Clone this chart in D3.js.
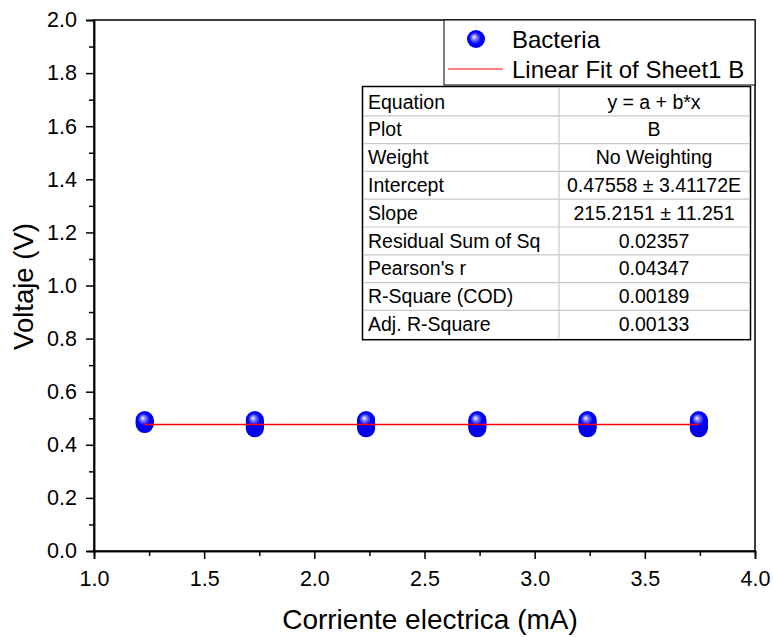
<!DOCTYPE html>
<html>
<head>
<meta charset="utf-8">
<script src="https://cdn.jsdelivr.net/npm/d3@7"></script>
<style>
	body { margin: 0; background: #fff; }
	text { font-family: "Liberation Sans", Arial, sans-serif; fill: #000; }
</style>
</head>
<body>
<svg id="plot" width="773" height="637"></svg>
<script>

// measured currents (mA) and the voltages read at each one
const X_VALUES = [1.23, 1.73, 2.235, 2.74, 3.24, 3.745];
const Y_COL1 = [0.478, 0.482, 0.486, 0.490, 0.493];
const Y_COL2 = [0.462, 0.467, 0.472, 0.478, 0.484, 0.490, 0.493];
const Y_COL3 = [0.462, 0.467, 0.472, 0.478, 0.484, 0.490, 0.493];
const Y_COL4 = [0.462, 0.467, 0.472, 0.478, 0.484, 0.490, 0.493];
const Y_COL5 = [0.462, 0.467, 0.472, 0.478, 0.484, 0.490, 0.493];
const Y_COL6 = [0.462, 0.467, 0.472, 0.478, 0.484, 0.490, 0.493];
const Y_COLS = [Y_COL1, Y_COL2, Y_COL3, Y_COL4, Y_COL5, Y_COL6];

// linear fit ends
const FIT_X = [1.23, 3.745];
const FIT_Y = [0.4766, 0.4766];

const X_TICKS = [1.0, 1.5, 2.0, 2.5, 3.0, 3.5, 4.0];
const Y_TICKS = [0.0, 0.2, 0.4, 0.6, 0.8, 1.0, 1.2, 1.4, 1.6, 1.8, 2.0];

const TABLE_LABELS = ['Equation', 'Plot', 'Weight', 'Intercept', 'Slope',
	'Residual Sum of Sq', "Pearson's r", 'R-Square (COD)', 'Adj. R-Square'];
const TABLE_VALUES = ['y = a + b*x', 'B', 'No Weighting', '0.47558 \u00b1 3.41172E',
	'215.2151 \u00b1 11.251', '0.02357', '0.04347', '0.00189', '0.00133'];

const LEGEND_NAMES = ['Bacteria', 'Linear Fit of Sheet1 B'];

function whenDocumentLoaded(action) {
	if (document.readyState === "loading") {
		document.addEventListener("DOMContentLoaded", action);
	} else {
		action();
	}
}

whenDocumentLoaded(() => {
	const svg = d3.select('#plot');
	const left = 94, right = 755, top = 20, bottom = 551;

	const x = d3.scaleLinear().domain([1, 4]).range([left, right]);
	const y = d3.scaleLinear().domain([0, 2]).range([bottom, top]);

	// sphere gradient for markers
	const defs = svg.append('defs');
	const grad = defs.append('radialGradient')
		.attr('id', 'ball')
		.attr('cx', '0.5').attr('cy', '0.5').attr('r', '0.55')
		.attr('fx', '0.38').attr('fy', '0.38');
	grad.append('stop').attr('offset', '0').attr('stop-color', '#ffffff');
	grad.append('stop').attr('offset', '0.25').attr('stop-color', '#8080ff');
	grad.append('stop').attr('offset', '0.6').attr('stop-color', '#0000ff');
	grad.append('stop').attr('offset', '1').attr('stop-color', '#0000e0');

	// frame
	svg.append('rect')
		.attr('x', left).attr('y', top)
		.attr('width', right - left).attr('height', bottom - top)
		.attr('fill', 'none').attr('stroke', '#000').attr('stroke-width', 1.5);

	// axes
	const xAxis = svg.append('g').attr('transform', `translate(0,${bottom})`)
		.call(d3.axisBottom(x).tickValues(X_TICKS).tickFormat(d3.format('.1f'))
			.tickSize(8));
	const xMinor = svg.append('g').attr('transform', `translate(0,${bottom})`)
		.call(d3.axisBottom(x).tickValues(X_TICKS.slice(0, -1).map(d => d + 0.25))
			.tickFormat('').tickSize(5));
	const yAxis = svg.append('g').attr('transform', `translate(${left},0)`)
		.call(d3.axisLeft(y).tickValues(Y_TICKS).tickFormat(d3.format('.1f'))
			.tickSize(8).tickPadding(9));
	const yMinor = svg.append('g').attr('transform', `translate(${left},0)`)
		.call(d3.axisLeft(y).tickValues(Y_TICKS.slice(0, -1).map(d => d + 0.1))
			.tickFormat('').tickSize(5));

	[xAxis, xMinor, yAxis, yMinor].forEach(g => {
		g.select('.domain').attr('stroke-width', 1.5);
		g.selectAll('.tick line').attr('stroke-width', 1.5);
		g.selectAll('.tick text').attr('font-size', 21.5)
			.attr('font-family', '"Liberation Sans", Arial, sans-serif');
	});
	xAxis.selectAll('.tick text').attr('y', 35).attr('dy', '0');

	// axis titles
	svg.append('text')
		.attr('x', 430).attr('y', 629)
		.attr('text-anchor', 'middle').attr('font-size', 28)
		.text('Corriente electrica (mA)');
	svg.append('text')
		.attr('transform', `translate(33,${(top + bottom) / 2 + 1}) rotate(-90)`)
		.attr('text-anchor', 'middle').attr('font-size', 27.5)
		.text('Voltaje (V)');

	// points
	const points = [];
	X_VALUES.forEach((xv, i) => {
		Y_COLS[i].forEach(yv => points.push({ x: xv, y: yv }));
	});
	svg.append('g').selectAll('circle')
		.data(points)
		.enter().append('circle')
		.attr('cx', d => x(d.x))
		.attr('cy', d => y(d.y))
		.attr('r', 9)
		.attr('fill', 'url(#ball)');

	// fit line
	svg.append('path')
		.datum(FIT_X.map((xv, i) => [xv, FIT_Y[i]]))
		.attr('d', d3.line().x(d => x(d[0])).y(d => y(d[1])))
		.attr('stroke', '#ff0000').attr('stroke-width', 1.5).attr('fill', 'none');

	// legend
	const lg = svg.append('g');
	lg.append('rect')
		.attr('x', 444).attr('y', top).attr('width', right - 444).attr('height', 65)
		.attr('fill', '#fff').attr('stroke', '#000').attr('stroke-width', 1);
	lg.append('circle').attr('cx', 476).attr('cy', 39).attr('r', 9).attr('fill', 'url(#ball)');
	lg.append('line').attr('x1', 448).attr('x2', 503).attr('y1', 69).attr('y2', 69)
		.attr('stroke', '#ff0000').attr('stroke-width', 1);
	lg.selectAll('text.leg')
		.data(LEGEND_NAMES)
		.enter().append('text')
		.attr('class', 'leg')
		.attr('x', 512)
		.attr('y', (d, i) => 48 + i * 29.5)
		.attr('font-size', 24)
		.text(d => d);

	// fit table
	const tLeft = 364, tRight = 749, tTop = 88, rowH = 27.8, split = 559;
	const tb = svg.append('g');
	const rows = d3.range(TABLE_LABELS.length);
	tb.append('rect')
		.attr('x', tLeft - 1.5).attr('y', tTop - 1.5)
		.attr('width', tRight - tLeft + 3).attr('height', rowH * rows.length + 3)
		.attr('fill', '#fff').attr('stroke', '#000').attr('stroke-width', 1.5);
	tb.selectAll('line.row')
		.data(d3.range(1, rows.length))
		.enter().append('line')
		.attr('x1', tLeft).attr('x2', tRight)
		.attr('y1', d => tTop + d * rowH).attr('y2', d => tTop + d * rowH)
		.attr('stroke', '#c8c8c8').attr('stroke-width', 1.2);
	tb.append('line')
		.attr('x1', split).attr('x2', split)
		.attr('y1', tTop).attr('y2', tTop + rowH * rows.length)
		.attr('stroke', '#c8c8c8').attr('stroke-width', 1.2);
	tb.selectAll('text.lab')
		.data(TABLE_LABELS)
		.enter().append('text')
		.attr('x', tLeft + 4)
		.attr('y', (d, i) => tTop + i * rowH + 20.5)
		.attr('font-size', 19.5)
		.text(d => d);
	tb.selectAll('text.val')
		.data(TABLE_VALUES)
		.enter().append('text')
		.attr('x', (split + tRight) / 2)
		.attr('y', (d, i) => tTop + i * rowH + 20.5)
		.attr('text-anchor', 'middle')
		.attr('font-size', 19.5)
		.text(d => d);
});
</script>
</body>
</html>
